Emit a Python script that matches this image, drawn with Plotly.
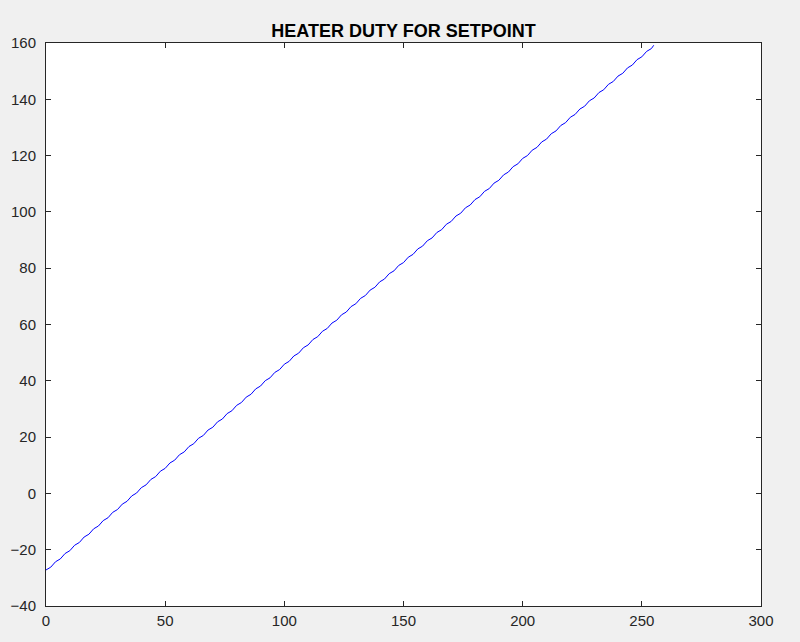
import plotly.graph_objects as go

# setpoint axis (x) and heater duty (y)
setpoint = list(range(0, 256, 2)) + [255]
duty = [
    -27.2, -26.2, -24.28, -23.28, -21.35, -20.35, -18.43, -17.43, -15.50, -14.50,
    -12.58, -11.58, -9.66, -8.66, -6.73, -5.73, -3.81, -2.81, -0.88, 0.12,
    2.04, 3.04, 4.96, 5.96, 7.89, 8.89, 10.81, 11.81, 13.74, 14.74,
    16.66, 17.66, 19.58, 20.58, 22.51, 23.51, 25.43, 26.43, 28.36, 29.36,
    31.28, 32.28, 34.20, 35.20, 37.13, 38.13, 40.05, 41.05, 42.98, 43.98,
    45.90, 46.90, 48.82, 49.82, 51.75, 52.75, 54.67, 55.67, 57.60, 58.60,
    60.52, 61.52, 63.44, 64.44, 66.37, 67.37, 69.29, 70.29, 72.22, 73.22,
    75.14, 76.14, 78.06, 79.06, 80.99, 81.99, 83.91, 84.91, 86.84, 87.84,
    89.76, 90.76, 92.68, 93.68, 95.61, 96.61, 98.53, 99.53, 101.46, 102.46,
    104.38, 105.38, 107.30, 108.30, 110.23, 111.23, 113.15, 114.15, 116.08, 117.08,
    119.00, 120.00, 121.92, 122.92, 124.85, 125.85, 127.77, 128.77, 130.70, 131.70,
    133.62, 134.62, 136.54, 137.54, 139.47, 140.47, 142.39, 143.39, 145.32, 146.32,
    148.24, 149.24, 151.16, 152.16, 154.09, 155.09, 157.01, 158.01, 159.2,
]

fig = go.Figure()
fig.add_trace(go.Scatter(
    x=setpoint, y=duty, mode="lines",
    line=dict(color="#0000ff", width=1),
    showlegend=False, hoverinfo="skip",
))

axis_style = dict(
    showgrid=False, zeroline=False,
    showline=True, linecolor="#262626", linewidth=1, mirror="ticks",
    ticks="inside", ticklen=5, tickcolor="#262626",
    tickfont=dict(family="Liberation Sans, Arial", size=15, color="#262626"),
)
fig.update_xaxes(range=[0, 300], dtick=50, tick0=0, ticklabelstandoff=1, **axis_style)
fig.update_yaxes(range=[-40, 160], dtick=20, tick0=-40, ticklabelstandoff=6, **axis_style)

fig.update_layout(
    width=800, height=642,
    margin=dict(l=46, r=39, t=43, b=36),
    paper_bgcolor="#f0f0f0", plot_bgcolor="white",
    title=dict(
        text="<b>HEATER DUTY FOR SETPOINT</b>",
        x=0.5, xref="paper", y=1, yref="paper", yanchor="bottom",
        pad=dict(b=6),
        font=dict(family="Liberation Sans, Arial", size=18, color="black"),
    ),
)

# drop the page's default body margin so the figure sits at the window corner
fig.write_html("out.html", config={"displayModeBar": False},
               post_script="document.body.style.margin='0';")
